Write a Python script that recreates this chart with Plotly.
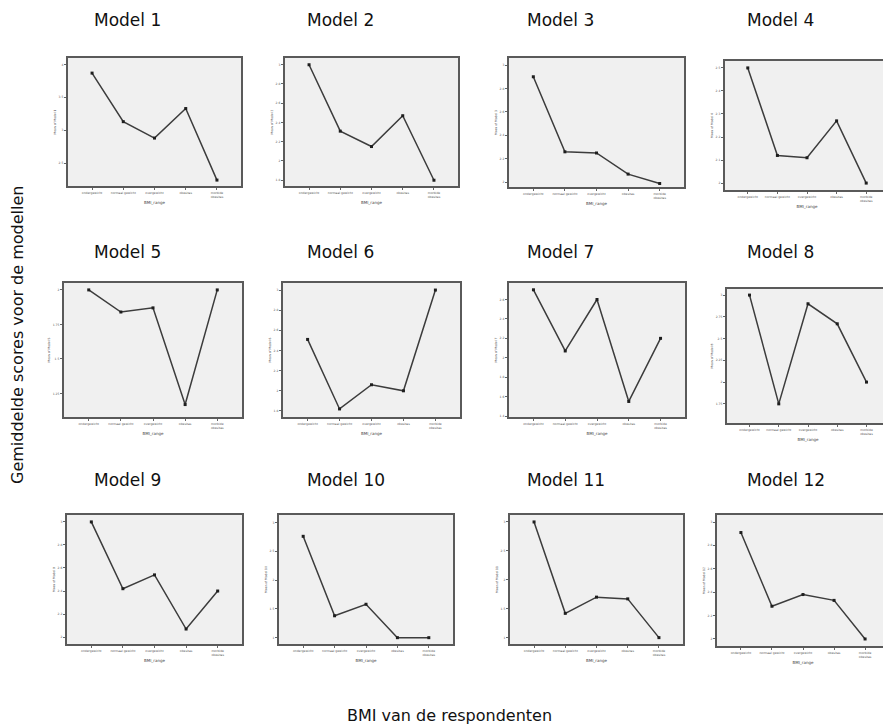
import plotly.graph_objects as go

PAGE_W, PAGE_H = 891, 727
OFF = 8  # default body margin of the html page
W, H = PAGE_W - OFF, PAGE_H - OFF

categories = ["ondergewicht", "normaal gewicht", "overgewicht", "obesitas", "morbide<br>obesitas"]

model_1 = [3.87, 3.13, 2.88, 3.33, 2.24]
model_2 = [3.00, 2.31, 2.15, 2.47, 1.80]
model_3 = [2.90, 2.26, 2.25, 2.07, 1.99]
model_4 = [2.50, 2.12, 2.11, 2.27, 2.00]
model_5 = [2.00, 1.84, 1.87, 1.17, 2.00]
model_6 = [2.51, 1.82, 2.06, 2.00, 3.00]
model_7 = [2.70, 2.07, 2.60, 1.55, 2.20]
model_8 = [3.00, 1.75, 2.90, 2.67, 2.00]
model_9 = [3.00, 2.42, 2.54, 2.07, 2.40]
model_10 = [2.76, 1.38, 1.58, 1.00, 1.00]
model_11 = [3.00, 1.42, 1.70, 1.67, 1.00]
model_12 = [2.91, 2.28, 2.38, 2.33, 2.00]

models = [model_1, model_2, model_3, model_4, model_5, model_6,
          model_7, model_8, model_9, model_10, model_11, model_12]
titles = ["Model %d" % (i + 1) for i in range(12)]

# y-axis scale per panel: (range low, range high, tick values)
y_scales = [
    (2.15, 4.10, [2.5, 3.0, 3.5, 4.0]),
    (1.74, 3.07, [1.8, 2.0, 2.2, 2.4, 2.6, 2.8, 3.0]),
    (1.96, 3.06, [2.0, 2.2, 2.4, 2.6, 2.8, 3.0]),
    (1.97, 2.53, [2.0, 2.1, 2.2, 2.3, 2.4, 2.5]),
    (1.08, 2.05, [1.25, 1.5, 1.75, 2.0]),
    (1.74, 3.07, [1.8, 2.0, 2.2, 2.4, 2.6, 2.8, 3.0]),
    (1.39, 2.77, [1.4, 1.6, 1.8, 2.0, 2.2, 2.4, 2.6]),
    (1.53, 3.07, [1.75, 2.0, 2.25, 2.5, 2.75, 3.0]),
    (1.94, 3.06, [2.0, 2.2, 2.4, 2.6, 2.8, 3.0]),
    (0.89, 3.13, [1.0, 1.5, 2.0, 2.5, 3.0]),
    (0.89, 3.12, [1.0, 1.5, 2.0, 2.5, 3.0]),
    (1.94, 3.06, [2.0, 2.2, 2.4, 2.6, 2.8, 3.0]),
]

# panel boxes in page pixels: left, right, top, bottom
boxes = [
    (68, 241, 58, 186), (285, 458, 58, 186), (509, 684, 58, 187), (725, 889, 61, 190),
    (64, 242, 283, 417), (283, 460, 283, 417), (509, 685, 283, 417), (727, 889, 289, 423),
    (67, 242, 515, 644), (279, 453, 515, 644), (510, 683, 515, 644), (717, 889, 515, 646),
]
title_pos = [
    (92, 20), (305, 20), (525, 20), (745, 20),
    (92, 252), (305, 252), (525, 252), (745, 252),
    (92, 480), (305, 480), (525, 480), (745, 480),
]


def fx(px):
    return (px - OFF) / W


def fy(py):
    return 1 - (py - OFF) / H


fig = go.Figure()
annotations = []
for i, vals in enumerate(models):
    n = "" if i == 0 else str(i + 1)
    l, r, t, b = boxes[i]
    lo, hi, tv = y_scales[i]
    fig.add_trace(go.Scatter(
        x=list(range(len(categories))), y=vals, mode="lines+markers",
        line=dict(color="#3c3c3c", width=1.5),
        marker=dict(symbol="square", size=3, color="#1e1e1e"),
        xaxis="x" + n, yaxis="y" + n, showlegend=False, hoverinfo="y"))
    fig.layout["xaxis" + n] = dict(
        domain=[fx(l), min(fx(r), 1)], anchor="y" + n, range=[-0.77, 4.77],
        tickmode="array", tickvals=list(range(len(categories))), ticktext=categories,
        tickfont=dict(size=3, color="#555"), ticks="outside", ticklen=2, tickcolor="#666",
        showline=True, mirror=True, linecolor="#5a5a5a", linewidth=2,
        showgrid=False, zeroline=False, fixedrange=True,
        title=dict(text="BMI_range", font=dict(size=4, color="#444"), standoff=4))
    fig.layout["yaxis" + n] = dict(
        domain=[fy(b), fy(t)], anchor="x" + n, range=[lo, hi],
        tickmode="array", tickvals=tv,
        tickfont=dict(size=3, color="#555"), ticks="outside", ticklen=2, tickcolor="#666",
        showline=True, mirror=True, linecolor="#5a5a5a", linewidth=2,
        showgrid=False, zeroline=False, fixedrange=True,
        title=dict(text="Mean of Model %d" % (i + 1), font=dict(size=3, color="#444"), standoff=3))
    tx, ty = title_pos[i]
    annotations.append(dict(text=titles[i], x=fx(tx), y=fy(ty), xref="paper", yref="paper",
                            xanchor="left", yanchor="middle", showarrow=False,
                            font=dict(size=17, color="#111")))

annotations.append(dict(text="Gemiddelde scores voor de modellen", x=fx(18), y=fy(335),
                        xref="paper", yref="paper", textangle=-90, showarrow=False,
                        xanchor="center", yanchor="middle", font=dict(size=16, color="#111")))
annotations.append(dict(text="BMI van de respondenten", x=fx(450), y=fy(715),
                        xref="paper", yref="paper", showarrow=False,
                        xanchor="center", yanchor="middle", font=dict(size=16, color="#111")))

fig.update_layout(
    width=W, height=H, margin=dict(l=0, r=0, t=0, b=0),
    paper_bgcolor="white", plot_bgcolor="#f0f0f0",
    font=dict(family="DejaVu Sans, Verdana, sans-serif"),
    annotations=annotations,
)

fig.write_html("out.html")
